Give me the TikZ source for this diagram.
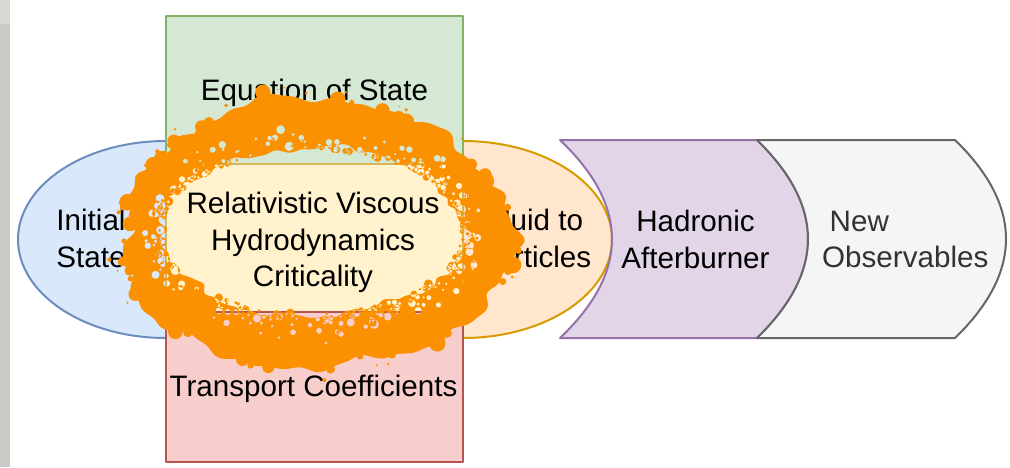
\documentclass[tikz,border=0pt]{standalone}
\usepackage{fontspec}
\setmainfont{Liberation Sans}
\definecolor{bluefill}{HTML}{DAE8FC}\definecolor{blueline}{HTML}{6C8EBF}
\definecolor{greenfill}{HTML}{D5E8D4}\definecolor{greenline}{HTML}{82B366}
\definecolor{redfill}{HTML}{F8CECC}\definecolor{redline}{HTML}{B85450}
\definecolor{orangefill}{HTML}{FFE6CC}\definecolor{orangeline}{HTML}{D79B00}
\definecolor{yellowfill}{HTML}{FFF2CC}\definecolor{yellowline}{HTML}{D6B656}
\definecolor{purplefill}{HTML}{E1D5E7}\definecolor{purpleline}{HTML}{9673A6}
\definecolor{grayfill}{HTML}{F5F5F5}\definecolor{grayline}{HTML}{666666}
\definecolor{graytext}{HTML}{333333}
\definecolor{splat}{RGB}{251,144,0}
\definecolor{strip}{RGB}{201,201,197}
\definecolor{striptop}{RGB}{216,216,213}
\begin{document}
\begin{tikzpicture}[x=1pt,y=-1pt,
  lbl/.style={font=\fontsize{29.6}{36.5}\selectfont, align=center, inner sep=0pt},
  edge/.style={line width=2pt, line join=round},
  box/.style={rectangle, edge, minimum width=297pt, inner sep=0pt},
  declare function={
    wob(\t)=1+0.025*sin(3*\t+40)+0.022*sin(7*\t+100)+0.018*sin(13*\t+15)+0.013*sin(21*\t+70)+0.009*sin(37*\t+20);
    wib(\t)=1+0.024*sin(4*\t+10)+0.020*sin(9*\t+80)+0.016*sin(17*\t+35)+0.012*sin(27*\t+60)+0.009*sin(41*\t+5);
  }]

\useasboundingbox (0,0) rectangle (1010,467);
\fill[white] (0,0) rectangle (1010,467);
\fill[strip] (0,0) rectangle (10,467);
\fill[striptop] (0,0) rectangle (10,24);

% rounded entry and exit stages behind the central column
\draw[edge, draw=blueline, fill=bluefill]
  (190,141) -- (166,141) .. controls (84.3,141) and (18,185.1) .. (18,239.5)
  .. controls (18,293.9) and (84.3,338) .. (166,338) -- (190,338) -- cycle;
\draw[edge, draw=orangeline, fill=orangefill]
  (440,141) -- (463,141) .. controls (545.3,141) and (612,185.1) .. (612,239.5)
  .. controls (612,293.9) and (545.3,338) .. (463,338) -- (440,338) -- cycle;

% curved step stages
\draw[edge, draw=purpleline, fill=purplefill]
  (560,140) -- (757,140) .. controls (825,206) and (825,272) .. (757,338)
  -- (560,338) .. controls (629.3,272) and (629.3,206) .. (560,140) -- cycle;
\draw[edge, draw=grayline, fill=grayfill]
  (757,140) -- (955,140) .. controls (1023,206) and (1023,272) .. (955,338)
  -- (757,338) .. controls (825,272) and (825,206) .. (757,140) -- cycle;

% central column
\node[box, draw=greenline, fill=greenfill, minimum height=148pt] (eos) at (314.5,90) {};
\node[box, draw=yellowline, fill=yellowfill, minimum height=148pt] (hydro) at (314.5,238) {};
\node[box, draw=redline, fill=redfill, minimum height=150pt] (tc) at (314.5,387) {};

% labels
\node[lbl, anchor=base] (eosT) at (314.5,100) {Equation of State};
\node[lbl, anchor=base] (tcT) at (313.5,396.7) {Transport Coefficients};
\node[lbl] (hydroT) at (313,242.5) {Relativistic Viscous\\Hydrodynamics\\Criticality};
\node[lbl] (initT) at (91,238.6) {Initial\\State};
\node[lbl] (fluidT) at (534.5,238.6) {Fluid to\\Particles};
\node[lbl] (hadT) at (695.5,239.5) {Hadronic\\Afterburner};
\node[lbl, align=left, anchor=west, text=graytext] (obsT) at (822,239.5) {\hspace*{7.5pt}New\\Observables};

% paint splatter ring with lacy inner rim
\pgfmathsetseed{4242}
\fill[splat, even odd rule]
  plot[smooth cycle, samples=300, domain=0:358.8, variable=\t]
    ({316+195*wob(\t)*cos(\t)}, {235+135*wob(\t)*sin(\t)})
  plot[smooth cycle, samples=240, domain=0:358.5, variable=\t]
    ({312+152*wib(\t)*cos(\t)}, {232+84*wib(\t)*sin(\t)})
  \foreach \k [evaluate=\k as \a using 360*rnd,
               evaluate=\k as \f using 0.6*rnd*rnd-0.04,
               evaluate=\k as \r using 1.4+4.0*rnd*rnd] in {1,...,340}
    { ({312+4*\f+(152+43*\f)*cos(\a)}, {232+3*\f+(84+51*\f)*sin(\a)}) circle[radius=\r] };
% lumps along the outer rim
\fill[splat]
  \foreach \k [evaluate=\k as \a using 360*rnd,
               evaluate=\k as \f using 0.99+0.025*rnd,
               evaluate=\k as \r using 2.5+6*rnd] in {1,...,45}
    { ({316+195*\f*wob(\a)*cos(\a)}, {235+135*\f*wob(\a)*sin(\a)}) circle[radius=\r] };
% droplets thrown clear of the rim
\fill[splat]
  \foreach \k [evaluate=\k as \a using 360*rnd,
               evaluate=\k as \f using 1.04+0.03*rnd,
               evaluate=\k as \r using 0.8+1.6*rnd] in {1,...,22}
    { ({316+195*\f*wob(\a)*cos(\a)}, {235+135*\f*wob(\a)*sin(\a)}) circle[radius=\r] };
\end{tikzpicture}
\end{document}
